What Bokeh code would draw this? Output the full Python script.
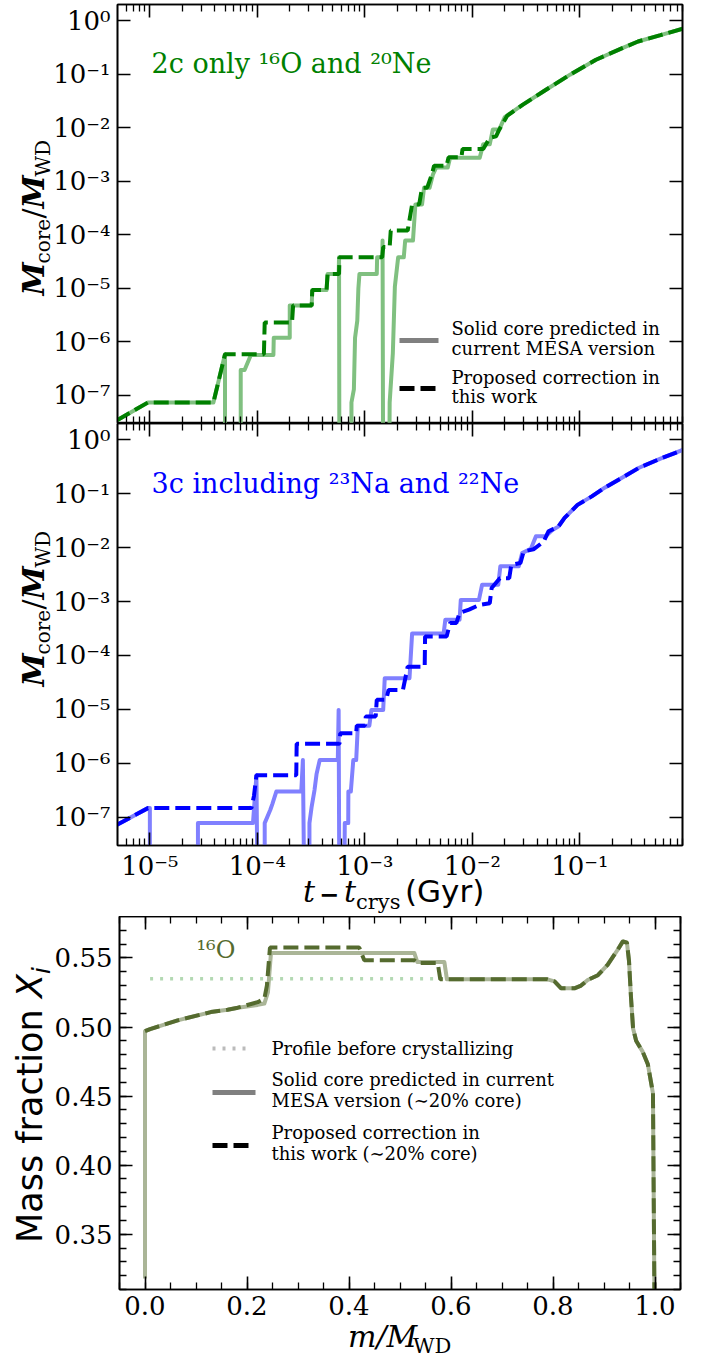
from math import pi
from bokeh.plotting import figure
from bokeh.models import (LogAxis, LinearAxis, FixedTicker, CustomJSTickFormatter,
                          Label, Arrow, Range1d)
from bokeh.layouts import column, row
from bokeh.embed import file_html
from bokeh.resources import INLINE

SERIF = "DejaVu Serif"
SANS = "DejaVu Sans"

# ---------------- data: panel 1 (2c only 16O and 20Ne) ----------------
t_2c_new = [4.9e-6, 9.6e-6, 3.9e-5, 5.0e-5, 1.15e-4, 1.17e-4, 2.1e-4, 2.15e-4, 3.2e-4, 3.24e-4,
            4.4e-4, 4.5e-4, 5.75e-4, 5.8e-4, 1.45e-3, 1.48e-3, 1.7e-3, 1.74e-3, 2.5e-3, 2.75e-3,
            3.2e-3, 3.4e-3, 3.8e-3, 4.2e-3, 4.4e-3, 5.75e-3, 6.0e-3, 7.9e-3, 8.1e-3, 1.26e-2,
            1.45e-2, 1.66e-2, 1.78e-2, 2.1e-2, 2.95e-2, 4.6e-2, 8.1e-2, 0.141, 0.251, 0.347,
            0.562, 0.905]
m_2c_new = [3.4e-8, 7.4e-8, 7.4e-8, 5.9e-7, 5.9e-7, 2.3e-6, 2.3e-6, 4.8e-6, 4.8e-6, 9.3e-6,
            9.3e-6, 1.86e-5, 1.86e-5, 3.8e-5, 3.8e-5, 5.9e-5, 5.9e-5, 1.2e-4, 1.2e-4, 3.7e-4,
            3.7e-4, 7.6e-4, 7.6e-4, 1.35e-3, 1.95e-3, 1.95e-3, 2.8e-3, 2.8e-3, 4.0e-3, 4.0e-3,
            6.5e-3, 6.9e-3, 9.3e-3, 1.66e-2, 2.7e-2, 4.8e-2, 9.8e-2, 0.186, 0.309, 0.407,
            0.537, 0.708]
t_2c_mesa = [4.9e-6, 9.6e-6, 3.9e-5, 5.0e-5, 5.0e-5, 7.0e-5, 7.0e-5, 7.6e-5, 8.7e-5, 1.41e-4,
             1.42e-4, 2.0e-4, 2.0e-4, 3.2e-4, 3.24e-4, 4.4e-4, 4.5e-4, 5.7e-4, 5.75e-4, 5.8e-4,
             7.5e-4, 7.5e-4, 7.9e-4, 8.1e-4, 8.5e-4, 8.7e-4, 8.9e-4, 1.29e-3, 1.3e-3, 1.45e-3,
             1.46e-3, 1.48e-3, 1.68e-3, 1.7e-3, 1.82e-3, 1.9e-3, 2.04e-3, 2.3e-3, 2.37e-3, 2.8e-3,
             2.95e-3, 3.4e-3, 3.55e-3, 4.0e-3, 4.3e-3, 4.6e-3, 5.9e-3, 6.2e-3, 1.17e-2, 1.26e-2,
             1.45e-2, 1.55e-2, 1.78e-2, 2.0e-2, 2.95e-2, 4.6e-2, 8.1e-2, 0.141, 0.251, 0.347,
             0.562, 0.905]
m_2c_mesa = [3.4e-8, 7.4e-8, 7.4e-8, 5.9e-7, 1e-9, 1e-9, 3.0e-7, 3.0e-7, 5.7e-7, 5.7e-7,
             1.2e-6, 1.2e-6, 4.8e-6, 4.8e-6, 9.3e-6, 9.3e-6, 1.86e-5, 1.86e-5, 3.8e-5, 1e-9,
             1e-9, 7.4e-8, 1.3e-7, 1.2e-6, 2.5e-6, 1.0e-5, 1.86e-5, 1.86e-5, 3.8e-5, 3.8e-5,
             7.8e-5, 1e-9, 1e-9, 7.4e-8, 6.2e-7, 1.07e-5, 3.8e-5, 3.8e-5, 7.8e-5, 7.8e-5,
             3.7e-4, 3.7e-4, 7.6e-4, 7.6e-4, 1.35e-3, 1.8e-3, 1.8e-3, 2.75e-3, 2.75e-3, 4.9e-3,
             4.9e-3, 9.3e-3, 9.3e-3, 1.58e-2, 2.7e-2, 4.8e-2, 9.8e-2, 0.186, 0.309, 0.407,
             0.537, 0.708]

# ---------------- data: panel 2 (3c including 23Na and 22Ne) ----------------
t_3c_new = [4.9e-6, 9.6e-6, 8.8e-5, 9.3e-5, 9.8e-5, 2.3e-4, 2.32e-4, 5.8e-4, 5.9e-4, 8.3e-4,
            8.4e-4, 1.0e-3, 1.02e-3, 1.26e-3, 1.29e-3, 1.58e-3, 1.66e-3, 2.26e-3, 2.5e-3, 3.6e-3,
            3.63e-3, 5.75e-3, 6.2e-3, 7.1e-3, 7.6e-3, 9.3e-3, 1.17e-2, 1.45e-2, 1.51e-2, 1.8e-2,
            2.2e-2, 2.3e-2, 2.8e-2, 3.0e-2, 3.7e-2, 4.6e-2, 5.1e-2, 6.3e-2, 7.2e-2, 9.5e-2,
            0.129, 0.17, 0.229, 0.355, 0.562, 0.905]
m_3c_new = [7.2e-8, 1.48e-7, 1.48e-7, 2.5e-7, 6.0e-7, 6.0e-7, 2.3e-6, 2.3e-6, 3.6e-6, 3.6e-6,
            5.0e-6, 5.0e-6, 7.4e-6, 7.4e-6, 1.51e-5, 1.51e-5, 2.3e-5, 2.3e-5, 6.2e-5, 6.2e-5,
            2.24e-4, 2.24e-4, 4.0e-4, 4.0e-4, 6.2e-4, 7.1e-4, 8.7e-4, 9.3e-4, 1.78e-3, 2.7e-3,
            2.7e-3, 4.8e-3, 5.2e-3, 8.5e-3, 9.3e-3, 1.29e-2, 2.0e-2, 2.45e-2, 3.55e-2, 6.2e-2,
            8.9e-2, 0.129, 0.182, 0.302, 0.447, 0.646]
t_3c_mesa = [4.9e-6, 9.6e-6, 1.0e-5, 1.0e-5, 2.8e-5, 2.8e-5, 9.1e-5, 9.8e-5, 1.01e-4, 1.17e-4,
             1.17e-4, 1.32e-4, 1.38e-4, 1.5e-4, 2.56e-4, 2.65e-4, 2.75e-4, 3.05e-4, 3.05e-4, 3.2e-4,
             3.4e-4, 3.55e-4, 3.8e-4, 5.6e-4, 5.7e-4, 5.8e-4, 6.4e-4, 6.5e-4, 7.0e-4, 7.02e-4,
             7.4e-4, 7.8e-4, 8.3e-4, 8.6e-4, 1.1e-3, 1.15e-3, 1.48e-3, 1.53e-3, 2.6e-3, 2.75e-3,
             5.4e-3, 5.6e-3, 7.6e-3, 7.8e-3, 1.15e-2, 1.23e-2, 1.74e-2, 1.82e-2, 2.7e-2, 2.9e-2,
             3.5e-2, 3.9e-2, 4.8e-2, 5.5e-2, 6.3e-2, 7.2e-2, 9.5e-2, 0.129, 0.17, 0.229,
             0.355, 0.562, 0.905]
m_3c_mesa = [7.2e-8, 1.48e-7, 1.48e-7, 1e-9, 1e-9, 7.8e-8, 7.8e-8, 6.0e-7, 1e-9, 1e-9,
             7.8e-8, 1.38e-7, 1.78e-7, 3.0e-7, 3.0e-7, 1.15e-6, 1e-9, 1e-9, 7.8e-8, 1.58e-7,
             3.2e-7, 6.3e-7, 1.15e-6, 1.15e-6, 9.8e-6, 1e-9, 1e-9, 7.8e-8, 7.8e-8, 3.0e-7,
             3.0e-7, 1.15e-6, 1.15e-6, 5.0e-6, 5.0e-6, 9.8e-6, 9.8e-6, 3.8e-5, 3.8e-5, 2.57e-4,
             2.57e-4, 4.6e-4, 4.6e-4, 1.07e-3, 1.07e-3, 2.04e-3, 2.04e-3, 4.5e-3, 4.5e-3, 7.9e-3,
             9.5e-3, 1.62e-2, 1.62e-2, 2.1e-2, 2.45e-2, 3.55e-2, 6.2e-2, 8.9e-2, 0.129, 0.182,
             0.302, 0.447, 0.646]

# ---------------- data: panel 3 (16O profile) ----------------
m_before = [0.01, 0.59]
x_before = [0.535, 0.535]
m_mesa = [0.0, 0.0, 0.01, 0.064, 0.129, 0.162, 0.182, 0.221, 0.234, 0.241, 0.247, 0.528, 0.534,
          0.587, 0.592, 0.789, 0.803, 0.816, 0.842, 0.855, 0.868, 0.888, 0.907, 0.927, 0.937,
          0.945, 0.949, 0.953, 0.957, 0.963, 0.976, 0.986, 0.996, 0.999]
x_mesa = [0.318, 0.497, 0.4985, 0.5048, 0.5108, 0.5125, 0.514, 0.516, 0.517, 0.525, 0.5536, 0.5536,
          0.547, 0.547, 0.5345, 0.5345, 0.533, 0.528, 0.528, 0.530, 0.534, 0.5375, 0.545, 0.556,
          0.562, 0.561, 0.548, 0.521, 0.499, 0.490, 0.482, 0.473, 0.452, 0.30]
m_new = [0.0, 0.01, 0.064, 0.129, 0.162, 0.182, 0.221, 0.234, 0.239, 0.245, 0.42, 0.43, 0.528,
         0.534, 0.574, 0.579, 0.789, 0.803, 0.816, 0.842, 0.855, 0.868, 0.888, 0.907, 0.927,
         0.937, 0.945, 0.949, 0.953, 0.957, 0.963, 0.976, 0.986, 0.996, 0.999]
x_new = [0.497, 0.4985, 0.5048, 0.5108, 0.5125, 0.514, 0.518, 0.5205, 0.53, 0.5575, 0.5575,
         0.5483, 0.5483, 0.5463, 0.5463, 0.5345, 0.5345, 0.533, 0.528, 0.528, 0.530, 0.534,
         0.5375, 0.545, 0.556, 0.562, 0.561, 0.548, 0.521, 0.499, 0.490, 0.482, 0.473, 0.452,
         0.30]

# ---------------- ticks ----------------
x_major = [1e-5, 1e-4, 1e-3, 1e-2, 1e-1]
x_minor = [k * 10.0 ** e for e in range(-6, 0) for k in range(2, 10)]
y_major = [1e-7, 1e-6, 1e-5, 1e-4, 1e-3, 1e-2, 1e-1, 1e0]
lin_x_major = [0.0, 0.2, 0.4, 0.6, 0.8, 1.0]
lin_x_minor = [i * 0.05 for i in range(-1, 22)]
lin_y_major = [0.35, 0.40, 0.45, 0.50, 0.55]
lin_y_minor = [0.30 + i * 0.01 for i in range(0, 30)]

GREEN, LGREEN = "#008000", "#80c080"
BLUE, LBLUE = "#0000ff", "#8080ff"
OLIVE, LOLIVE, DOT = "#556b2f", "#aab597", "#b3d9b3"
DASH = "15 6"

SUP_JS = """
const e = Math.round(Math.log10(tick));
const sup = {"-":"\u207b","0":"\u2070","1":"\u00b9","2":"\u00b2","3":"\u00b3","4":"\u2074",
             "5":"\u2075","6":"\u2076","7":"\u2077","8":"\u2078","9":"\u2079"};
return "10" + String(e).split("").map(c => sup[c]).join("");
"""
BLANK_JS = "return '';"

W_LEFT = 66          # width of the y-label strips (overlapping the figures by 16 px)
OVER = 16
W_MAIN = 65 + 565 + 12
MID = 0.33           # distance from alphabetic baseline to text middle, in em


def style_axis(ax, labels, size="26px", standoff=7):
    ax.major_tick_in = 13
    ax.major_tick_out = 0
    ax.minor_tick_in = 7
    ax.minor_tick_out = 0
    ax.major_tick_line_width = 1.6
    ax.minor_tick_line_width = 1.3
    ax.major_tick_line_color = "black"
    ax.minor_tick_line_color = "black"
    ax.axis_line_width = 1.6
    ax.axis_line_color = "black"
    ax.major_label_text_font = SERIF
    ax.major_label_text_color = "black"
    if labels:
        ax.major_label_text_font_size = size
        ax.major_label_standoff = standoff
    else:
        ax.formatter = CustomJSTickFormatter(code=BLANK_JS)
        ax.major_label_text_font_size = "1px"
        ax.major_label_text_alpha = 0
        ax.major_label_standoff = 0


def label(p, text, x, y, size, color="black", font=SERIF, style="normal",
          align="left", baseline="middle", angle=0.0):
    p.add_layout(Label(x=x, y=y, x_units="screen", y_units="screen", text=text,
                       text_font=font, text_font_size=f"{size}px", text_font_style=style,
                       text_color=color, text_align=align, text_baseline=baseline,
                       angle=angle))


def composite(p, pieces, cx, base, rotated=False):
    """pieces: (text, size, font, style, subscript shift px, advance px).
    base: baseline position (x for rotated text, y-up for horizontal text)."""
    total = sum(pc[5] for pc in pieces)
    pos = cx - total / 2.0
    for text, size, font, style, shift, adv in pieces:
        if rotated:
            label(p, text, base + shift - MID * size, pos, size, font=font, style=style,
                  angle=pi / 2)
        else:
            label(p, text, pos, base - shift + MID * size, size, font=font, style=style)
        pos += adv


def legend_line(p, x0, x1, y, color, dash="solid", width=5):
    p.add_layout(Arrow(end=None, start=None, x_start=x0, y_start=y, x_end=x1, y_end=y,
                       start_units="screen", end_units="screen", line_color=color,
                       line_width=width, line_dash=dash))


def strip(width, height, margin=(0, 0, 0, 0)):
    s = figure(width=width, height=height, x_range=Range1d(0, 1), y_range=Range1d(0, 1),
               min_border=0, x_axis_location=None, y_axis_location=None,
               output_backend="svg", toolbar_location=None, margin=margin)
    s.grid.visible = False
    s.outline_line_color = None
    s.background_fill_alpha = 0
    s.border_fill_alpha = 0
    return s


def log_fig(frame_h, top, bottom, xlabels):
    p = figure(x_axis_type="log", y_axis_type="log",
               x_range=Range1d(5e-6, 0.9), y_range=Range1d(3e-8, 2.0),
               frame_width=565, frame_height=frame_h,
               min_border_left=65, min_border_right=12,
               min_border_top=top, min_border_bottom=bottom,
               output_backend="svg", toolbar_location=None, margin=(0, 0, 0, -OVER))
    p.grid.visible = False
    p.outline_line_color = "black"
    p.outline_line_width = 1.6
    p.border_fill_alpha = 0
    p.xaxis.ticker = FixedTicker(ticks=x_major, minor_ticks=x_minor)
    p.xaxis.formatter = CustomJSTickFormatter(code=SUP_JS)
    p.yaxis.ticker = FixedTicker(ticks=y_major, minor_ticks=[])
    p.yaxis.formatter = CustomJSTickFormatter(code=SUP_JS)
    style_axis(p.xaxis[0], xlabels, "26px", 5)
    style_axis(p.yaxis[0], True, "26px", 7)
    top_ax = LogAxis(ticker=FixedTicker(ticks=x_major, minor_ticks=x_minor))
    right_ax = LogAxis(ticker=FixedTicker(ticks=y_major, minor_ticks=[]))
    style_axis(top_ax, False)
    style_axis(right_ax, False)
    p.add_layout(top_ax, "above")
    p.add_layout(right_ax, "right")
    return p


def mlabel(s, cy):
    composite(s, [("M", 30, SERIF, "bold italic", 0, 32),
                  ("core", 20, SERIF, "normal", 6, 45),
                  ("/", 30, SERIF, "normal", 0, 10),
                  ("M", 30, SERIF, "bold italic", 0, 32),
                  ("WD", 20, SERIF, "normal", 6, 37)], cy, 43, rotated=True)


# ---------------- panel 1 ----------------
p1 = log_fig(419, 4, 0, False)
p1.line(t_2c_mesa, m_2c_mesa, line_color=LGREEN, line_width=4, line_join="round")
p1.line(t_2c_new, m_2c_new, line_color=GREEN, line_width=4, line_dash=DASH)
label(p1, "2c only \u00b9\u2076O and \u00b2\u2070Ne", 34, 360.5, 27, color=GREEN)
legend_line(p1, 282, 321, 83, "#808080")
legend_line(p1, 282, 321, 35, "black", DASH)
for txt, yy in [("Solid core predicted in", 95), ("current MESA version", 75),
                ("Proposed correction in", 46), ("this work", 27)]:
    label(p1, txt, 334, yy, 18)
L1 = strip(W_LEFT, 423)
mlabel(L1, 206)

# ---------------- panel 2 ----------------
p2 = log_fig(422, 0, 38, True)
p2.line(t_3c_mesa, m_3c_mesa, line_color=LBLUE, line_width=4, line_join="round")
p2.line(t_3c_new, m_3c_new, line_color=BLUE, line_width=4, line_dash=DASH)
label(p2, "3c including \u00b2\u00b3Na and \u00b2\u00b2Ne", 34, 362.5, 27, color=BLUE)
L2 = strip(W_LEFT, 460)
mlabel(L2, 237)
# strip below panel 2: spans page y 871..916 (overlaps the tick-label border by 12 px)
S2 = strip(W_LEFT - OVER + W_MAIN, 45, margin=(-12, 0, 0, 0))
composite(S2, [("t", 30, SERIF, "italic", 0, 16),
               ("\u2212", 24, SANS, "bold", 0, 25),
               ("t", 30, SERIF, "italic", 0, 12),
               ("crys", 21, SERIF, "normal", 7, 49),
               ("(Gyr)", 31, SANS, "normal", 0, 88)], 397.5, 15)

# ---------------- panel 3 ----------------
p3 = figure(x_range=Range1d(-0.05, 1.05), y_range=Range1d(0.31, 0.58),
            frame_width=561, frame_height=373,
            min_border_left=69, min_border_right=12, min_border_top=0, min_border_bottom=38,
            output_backend="svg", toolbar_location=None, margin=(0, 0, 0, -OVER))
p3.grid.visible = False
p3.outline_line_color = "black"
p3.outline_line_width = 1.6
p3.border_fill_alpha = 0
p3.xaxis.ticker = FixedTicker(ticks=lin_x_major, minor_ticks=lin_x_minor)
p3.yaxis.ticker = FixedTicker(ticks=lin_y_major, minor_ticks=lin_y_minor)
p3.xaxis.formatter = CustomJSTickFormatter(code="return tick.toFixed(1);")
p3.yaxis.formatter = CustomJSTickFormatter(code="return tick.toFixed(2);")
style_axis(p3.xaxis[0], True, "26px", 6)
style_axis(p3.yaxis[0], True, "26px", 7)
t3 = LinearAxis(ticker=FixedTicker(ticks=lin_x_major, minor_ticks=lin_x_minor))
r3 = LinearAxis(ticker=FixedTicker(ticks=lin_y_major, minor_ticks=lin_y_minor))
style_axis(t3, False)
style_axis(r3, False)
p3.add_layout(t3, "above")
p3.add_layout(r3, "right")

p3.line(m_before, x_before, line_color=DOT, line_width=3.5, line_dash="3 7")
p3.line(m_mesa, x_mesa, line_color=LOLIVE, line_width=4, line_join="round")
p3.line(m_new, x_new, line_color=OLIVE, line_width=4, line_dash=DASH)
label(p3, "\u00b9\u2076O", 77, 340, 24, color=OLIVE)

legend_line(p3, 93, 132, 241, "#bbbbbb", "3 7", 4)
legend_line(p3, 93, 136, 197, "#808080")
legend_line(p3, 93, 132, 144, "black", DASH)
for txt, yy in [("Profile before crystallizing", 241),
                ("Solid core predicted in current", 210),
                ("MESA version (\u223c20% core)", 189),
                ("Proposed correction in", 157),
                ("this work (\u223c20% core)", 136)]:
    label(p3, txt, 152, yy, 18)

L3 = strip(W_LEFT, 411)
composite(L3, [("Mass fraction", 35, SANS, "normal", 0, 245),
               ("X", 35, SANS, "italic", 0, 24),
               ("i", 25, SANS, "italic", 8, 7)], 184.5, 41, rotated=True)
# strip below panel 3: spans page y 1315..1360
S3 = strip(W_LEFT - OVER + W_MAIN, 45, margin=(-12, 0, 0, 0))
composite(S3, [("m/M", 30, SERIF, "italic", 0, 65),
               ("WD", 21, SERIF, "normal", 6, 39)], 399.5, 14)

layout = column(row(L1, p1, spacing=0), row(L2, p2, spacing=0), S2,
                row(L3, p3, spacing=0), S3, spacing=0)
open("out.html", "w").write(file_html(layout, INLINE))
